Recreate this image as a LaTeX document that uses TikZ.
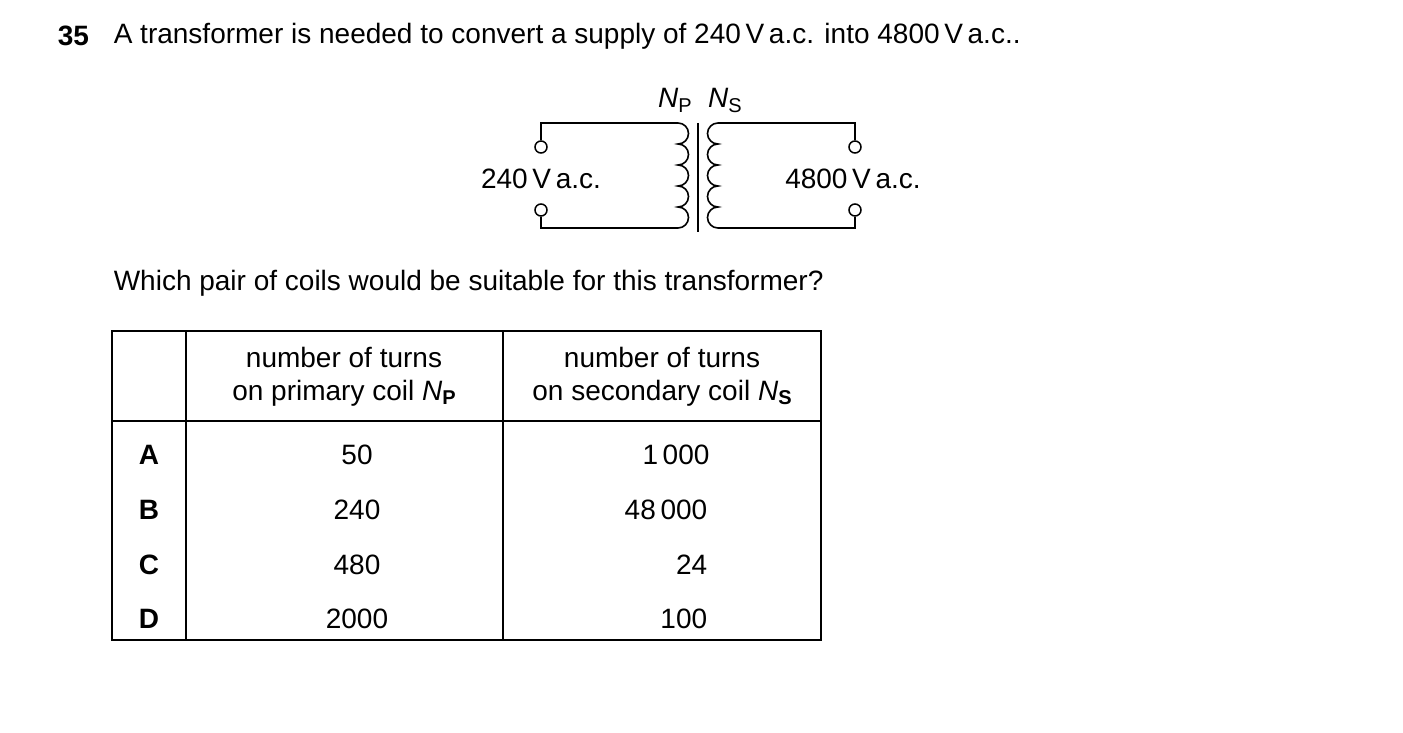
\documentclass[tikz,border=0pt]{standalone}
\usepackage{fontspec}
\setmainfont{Liberation Sans}
\begin{document}
\begin{tikzpicture}[x=1pt,y=1pt,line width=1.6pt,
  txt/.style={inner sep=0pt,font=\fontsize{28}{33}\selectfont},
  term/.style={circle,draw,fill=white,minimum size=12pt,inner sep=0pt,line width=1.5pt},
  tab/.style={line width=1.1pt}]
\useasboundingbox (0,0) rectangle (1403,-733);
% title
\node[txt,anchor=west] (num) at (57,-36) {\textbf{35}};
\node[txt,anchor=west] (title) at (113,-36) {A transformer is needed to convert a supply of 240\,V\,a.c. into 4800\,V\,a.c..};
% circuit
\node[term] (t1) at (541,-147) {};
\node[term] (t2) at (541,-210) {};
\node[term] (t3) at (855,-147) {};
\node[term] (t4) at (855,-210) {};
\coordinate (pa) at (678,-123);
\coordinate (sa) at (718,-123);
\draw (t1.north) |- (pa) arc(90:-90:10.5) arc(90:-90:10.5) arc(90:-90:10.5) arc(90:-90:10.5) arc(90:-90:10.5) -- (541,-228) coordinate (pb) -- (t2.south);
\draw (t3.north) |- (sa) arc(90:270:10.5) arc(90:270:10.5) arc(90:270:10.5) arc(90:270:10.5) arc(90:270:10.5) -- (855,-228) coordinate (sb) -- (t4.south);
\coordinate (c1) at (698,-123);
\coordinate (c2) at (698,-232);
\draw (c1) -- (c2);
\node[txt] (np) at (675,-100) {\textit{N}\raisebox{-5pt}{\fontsize{20}{24}\selectfont P}};
\node[txt] (ns) at (725,-100) {\textit{N}\raisebox{-5pt}{\fontsize{20}{24}\selectfont S}};
\node[txt] (v1) at (541,-179) {240\,V\,a.c.};
\node[txt] (v2) at (853,-179) {4800\,V\,a.c.};
\node[txt,anchor=west] (q) at (113,-283) {Which pair of coils would be suitable for this transformer?};
% table
\draw[tab] (112,-331) rectangle (821,-640);
\draw[tab] (186,-331) -- (186,-640);
\draw[tab] (503,-331) -- (503,-640);
\draw[tab] (112,-421) -- (821,-421);
\node[txt,align=center] (h1) at (344,-377) {number of turns\\on primary coil \textit{N}\raisebox{-4pt}{\fontsize{20}{24}\selectfont\textbf{P}}};
\node[txt,align=center] (h2) at (662,-377) {number of turns\\on secondary coil \textit{N}\raisebox{-4pt}{\fontsize{20}{24}\selectfont\textbf{S}}};
\foreach \l/\a/\y in {A/50/455,B/240/510,C/480/565,D/2000/619}{
  \node[txt] (r\l) at (149,-\y) {\textbf{\l}};
  \node[txt] (p\l) at (357,-\y) {\a};
}
\node[txt] (sA) at (676,-455) {1\,000};
\node[txt] (sB) at (666,-510) {48\,000};
\node[txt,anchor=east] (sC) at (708,-565) {24};
\node[txt,anchor=east] (sD) at (708,-619) {100};
\end{tikzpicture}
\end{document}
